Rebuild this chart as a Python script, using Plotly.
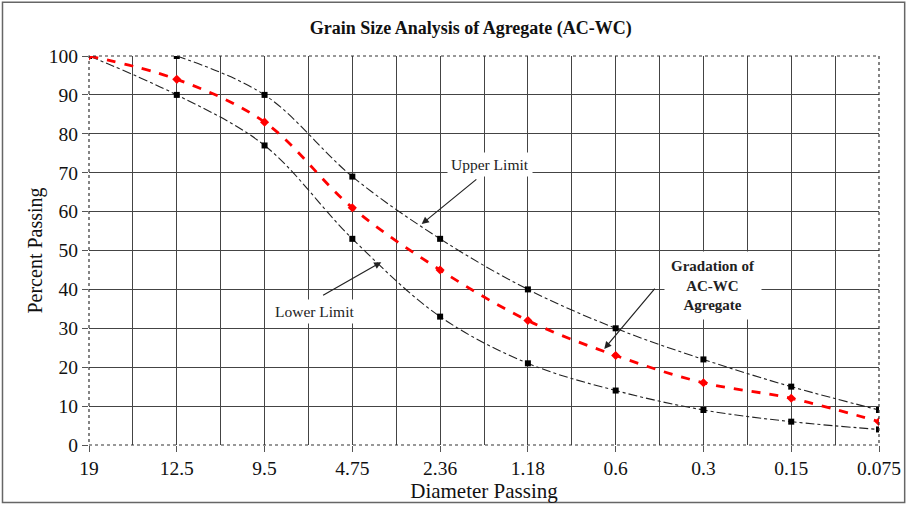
import plotly.graph_objects as go

sizes = ["19", "12.5", "9.5", "4.75", "2.36", "1.18", "0.6", "0.3", "0.15", "0.075"]
upper_limit = [None, 100, 90, 69, 53, 40, 30, 22, 15, 9]
lower_limit = [100, 90, 77, 53, 33, 21, 14, 9, 6, 4]
gradation = [100, 94, 83, 61, 45, 32, 23, 16, 12, 6]
y_ticks = [0, 10, 20, 30, 40, 50, 60, 70, 80, 90, 100]

xpos = list(range(len(sizes)))
FONT = "Liberation Serif, Times New Roman, serif"

fig = go.Figure()
for vals in (upper_limit, lower_limit):
    fig.add_trace(go.Scatter(
        x=xpos, y=vals, mode="lines+markers", line_shape="spline",
        line=dict(color="#222", width=1.1, dash="dashdot"),
        marker=dict(symbol="square", size=6, color="black"),
        showlegend=False, connectgaps=False))
fig.add_trace(go.Scatter(
    x=xpos, y=gradation, mode="lines+markers", line_shape="spline",
    line=dict(color="#ff0000", width=2.8, dash="dash"),
    marker=dict(symbol="diamond", size=7, color="#ff0000"),
    showlegend=False))

# annotations: arrows
arrows = [((3.79, 56.8), (4.43, 68.6)), ((3.33, 47.0), (2.65, 38.3)), ((5.87, 24.7), (6.46, 40.6))]
for (hx, hy), (tx, ty) in arrows:
    fig.add_annotation(x=hx, y=hy, ax=tx, ay=ty, axref="x", ayref="y", text="",
                       showarrow=True, arrowhead=2, arrowsize=1.2, arrowwidth=1.2, arrowcolor="#222")
fig.add_annotation(x=4.57, y=72.2, text="Upper Limit", showarrow=False, bgcolor="white",
                   font=dict(family=FONT, size=15.5, color="#222"), borderpad=3)
fig.add_annotation(x=2.57, y=34.4, text="Lower Limit", showarrow=False, bgcolor="white",
                   font=dict(family=FONT, size=15.5, color="#222"), borderpad=3)
fig.add_annotation(x=7.11, y=41.1, text="<b>Gradation of<br>AC-WC<br>Agregate</b>", showarrow=False,
                   bgcolor="white", font=dict(family=FONT, size=15, color="#222"), borderpad=6)

fig.update_layout(
    width=907, height=505,
    margin=dict(l=89, r=28, t=56, b=60),
    paper_bgcolor="white", plot_bgcolor="white",
    font=dict(family=FONT, color="#111"),
    title=dict(text="<b>Grain Size Analysis of Agregate (AC-WC)</b>", x=0.519, xanchor="center",
               y=0.945, yanchor="middle", font=dict(family=FONT, size=18, color="#111")),
    xaxis=dict(range=[0, 9], tickvals=xpos, ticktext=sizes, showgrid=True, gridcolor="#444",
               gridwidth=1, zeroline=False, ticks="outside", ticklen=6, tickcolor="#555", automargin=False,
               tickfont=dict(size=19.5), minor=dict(dtick=0.5, showgrid=True, gridcolor="#444", gridwidth=1, tick0=0),
               title=dict(text="Diameter Passing", font=dict(size=21), standoff=0)),
    yaxis=dict(range=[0, 100], tickvals=y_ticks, showgrid=True, gridcolor="#444", gridwidth=1, automargin=False,
               zeroline=False, ticks="outside", ticklen=6, tickcolor="#555", tickfont=dict(size=19.5),
               title=dict(text="Percent Passing", font=dict(size=20), standoff=0)),
    shapes=[
        dict(type="rect", xref="paper", yref="paper", x0=0, y0=0, x1=1, y1=1,
             line=dict(color="#333", width=1.2, dash="dot"), layer="above"),
        dict(type="rect", xref="paper", yref="paper", x0=-0.1095, y0=-0.1475, x1=1.0325, y1=1.138,
             line=dict(color="#666", width=1.5)),
    ],
)
fig.write_html("out.html", config={"displayModeBar": False, "responsive": False},
               post_script="document.body.style.margin='0';document.body.style.overflow='hidden';")
